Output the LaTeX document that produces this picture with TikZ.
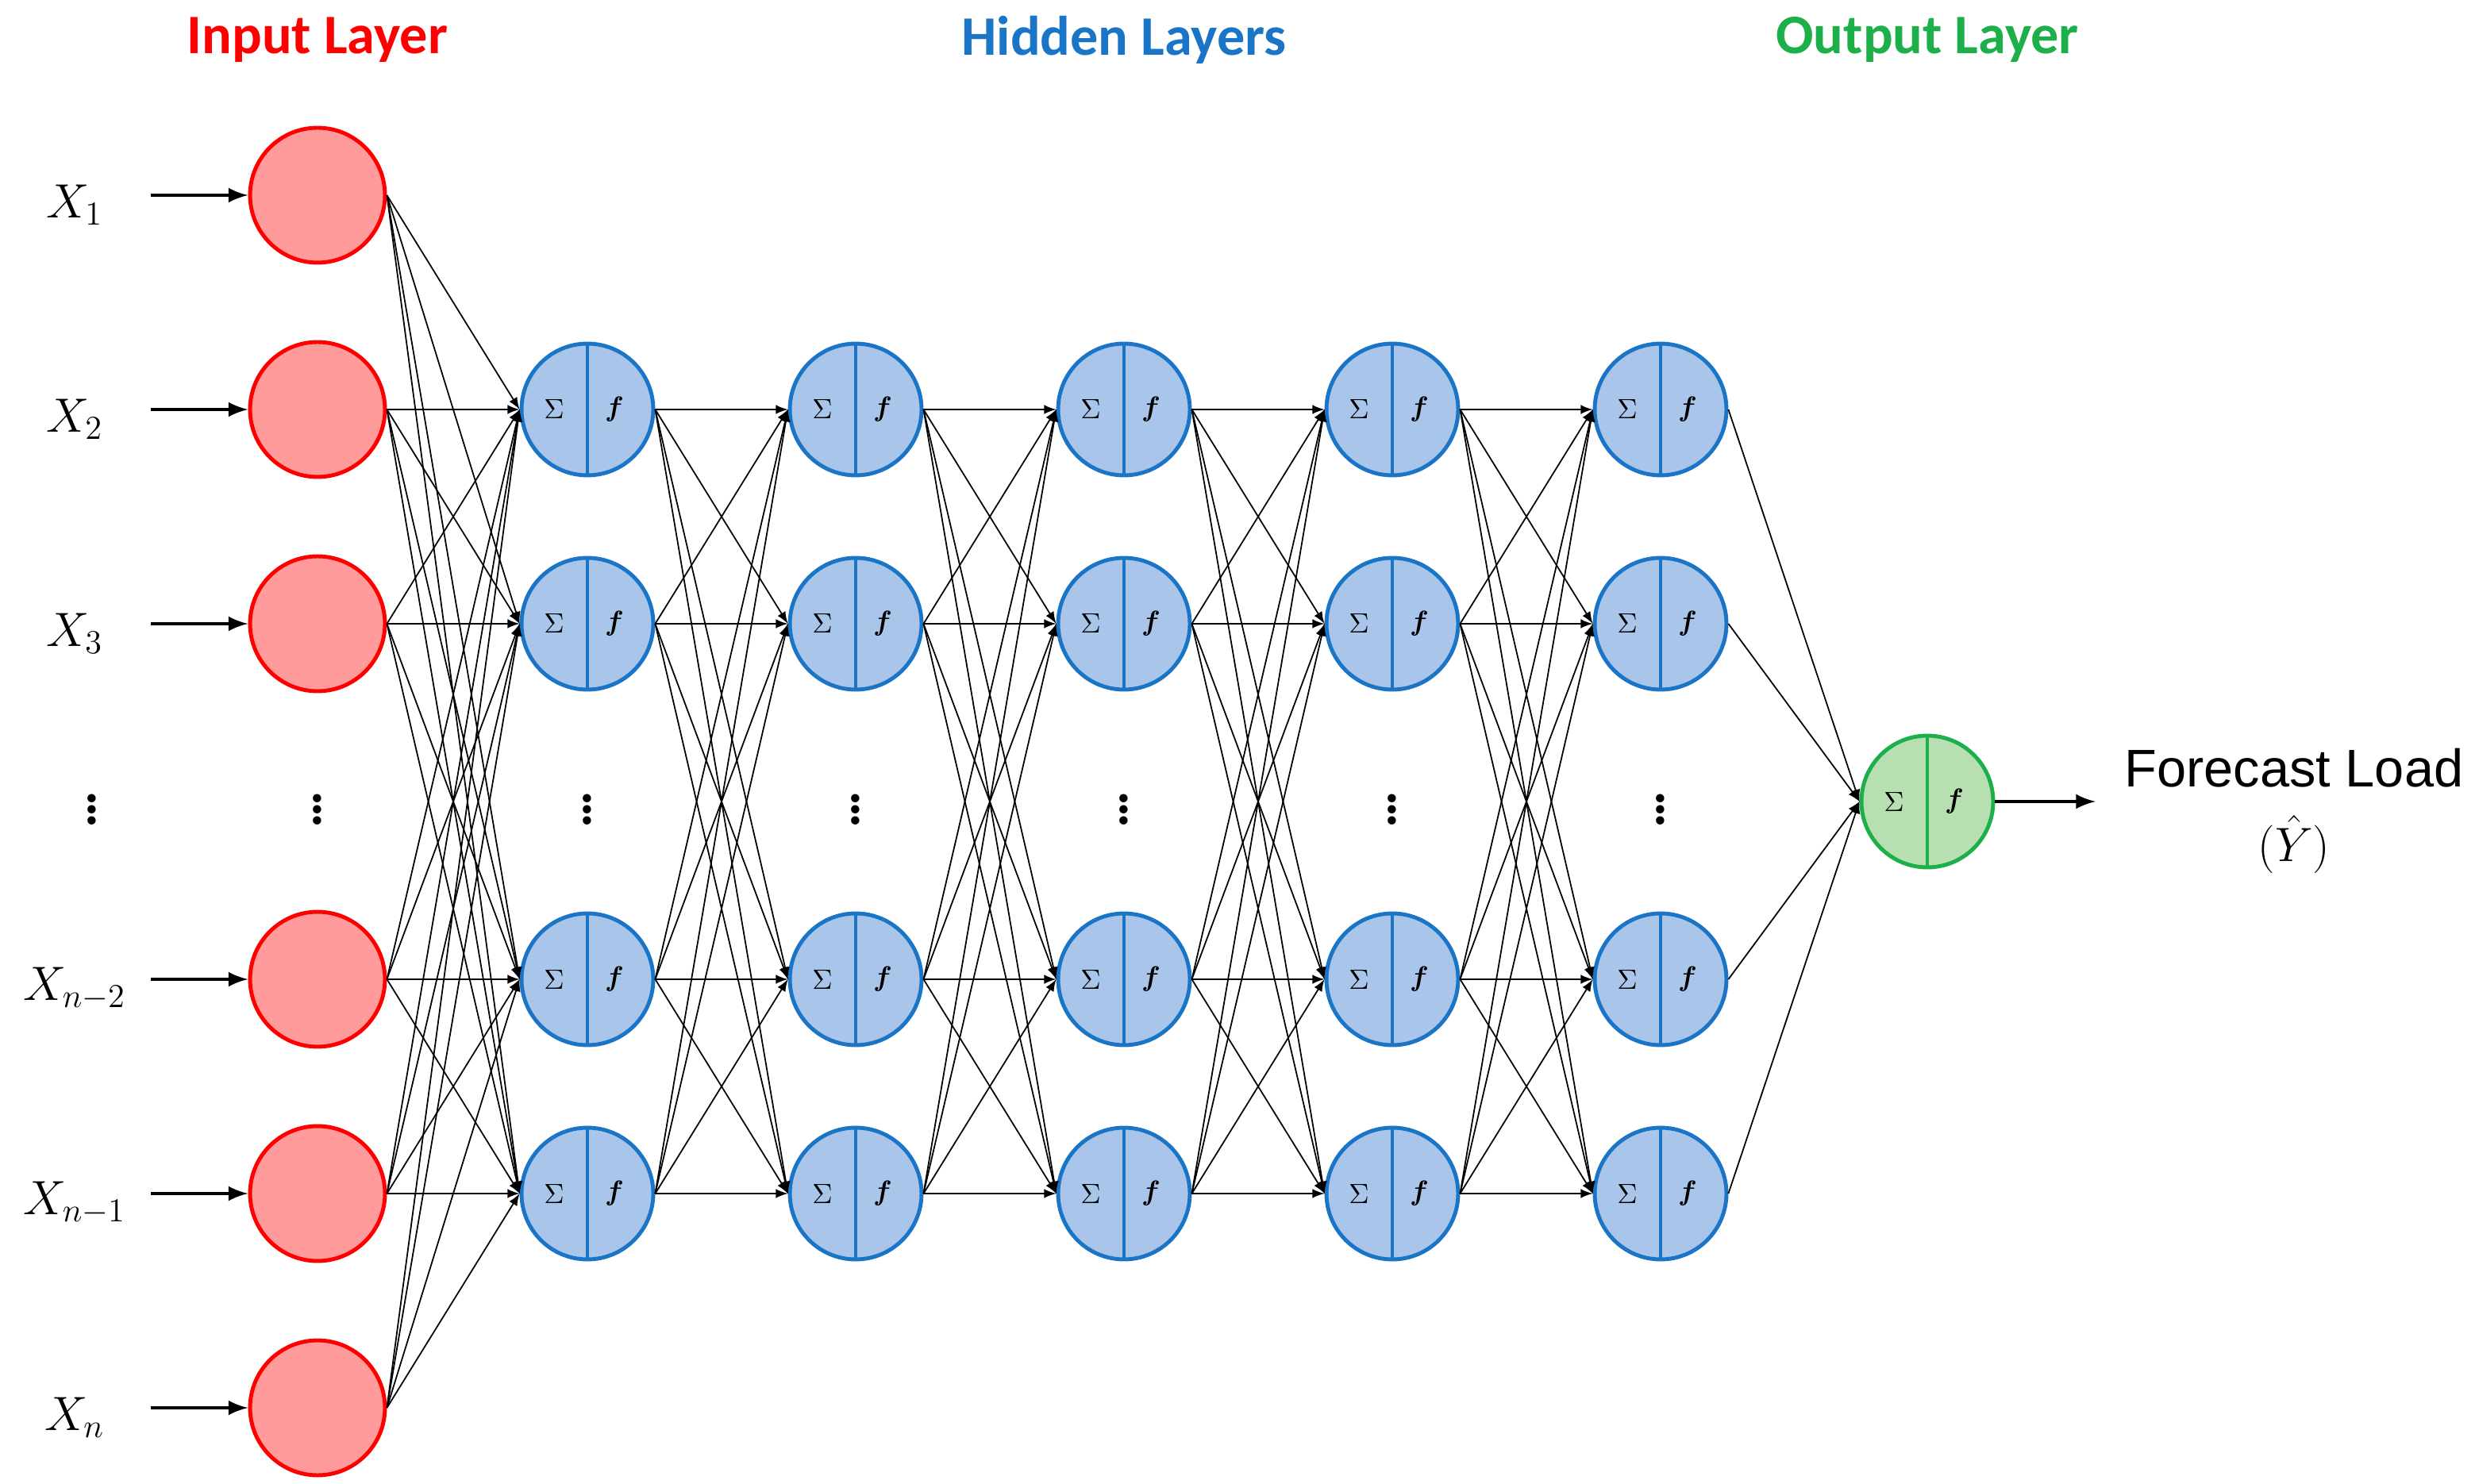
\documentclass[tikz,border=0pt]{standalone}
\usepackage{fontspec}
\usepackage{amsmath}
\newfontfamily\titlefont{Carlito}
\newfontfamily\labelfont{Liberation Sans}
\definecolor{inred}{HTML}{FF0000}
\definecolor{infill}{HTML}{FF9B9B}
\definecolor{hidblue}{HTML}{1B75C6}
\definecolor{hidfill}{HTML}{A9C5EA}
\definecolor{outgreen}{HTML}{1DB04A}
\definecolor{outfill}{HTML}{B7DFB2}
\begin{document}
\begin{tikzpicture}[x=0.02cm,y=-0.02cm,>=latex,
  inneuron/.style={circle,draw=inred,fill=infill,line width=1.4pt,minimum size=1.7cm,inner sep=0pt},
  hidneuron/.style={circle,draw=hidblue,fill=hidfill,line width=1.4pt,minimum size=1.66cm,inner sep=0pt},
  outneuron/.style={circle,draw=outgreen,fill=outfill,line width=1.4pt,minimum size=1.66cm,inner sep=0pt},
  conn/.style={->,line width=0.5pt},
  vdots/.style={font=\huge\bfseries,inner sep=0pt},
  title/.style={font=\titlefont\bfseries\fontsize{20}{24}\selectfont}]
\useasboundingbox (0,0) rectangle (1559,935);
% titles
\node[title,text=inred] (tin) at (200,25) {Input Layer};
\node[title,text=hidblue] (thid) at (708,25) {Hidden Layers};
\node[title,text=outgreen] (tout) at (1214,25) {Output Layer};
% input layer
\foreach \i/\y/\lab in {1/123/X_1,2/258/X_2,3/393/X_3,4/617/X_{n-2},5/752/X_{n-1},6/887/X_n}{
  \node[inneuron] (in\i) at (200,\y) {};
  \node[font=\LARGE] (x\i) at (47,\y+6) {$\lab$};
  \coordinate (xs\i) at (95,\y);
  \draw[->,line width=1.4pt] (xs\i) -- (in\i);
}
\node[vdots] (dx) at (58,505) {$\boldsymbol{\vdots}$};
\node[vdots] (din) at (200,505) {$\boldsymbol{\vdots}$};
% hidden layers
\foreach \l/\x in {1/370,2/539,3/708,4/877,5/1046}{
  \foreach \k/\y in {1/258,2/393,3/617,4/752}{
    \node[hidneuron] (h\l-\k) at (\x,\y) {};
    \draw[hidblue,line width=1.4pt] (h\l-\k.north) -- (h\l-\k.south);
    \node[font=\normalsize] at (\x-21,\y) {$\Sigma$};
    \node[font=\normalsize] at (\x+17,\y) {$\boldsymbol{f}$};
  }
  \node[vdots] (dh\l) at (\x,505) {$\boldsymbol{\vdots}$};
}
% output layer
\node[outneuron] (out) at (1214,505) {};
\draw[outgreen,line width=1.4pt] (out.north) -- (out.south);
\node[font=\normalsize] at (1193,505) {$\Sigma$};
\node[font=\normalsize] at (1231,505) {$\boldsymbol{f}$};
% connections
\foreach \i in {1,...,6}{
  \foreach \k in {1,...,4}{
    \draw[conn] (in\i.east) -- (h1-\k.west);
  }
}
\foreach \l [evaluate=\l as \m using int(\l+1)] in {1,...,4}{
  \foreach \j in {1,...,4}{
    \foreach \k in {1,...,4}{
      \draw[conn] (h\l-\j.east) -- (h\m-\k.west);
    }
  }
}
\foreach \k in {1,...,4}{
  \draw[conn] (h5-\k.east) -- (out.west);
}
% result
\coordinate (res) at (1320,505);
\draw[->,line width=1.4pt] (out.east) -- (res);
\node[font=\labelfont\fontsize{19}{22}\selectfont] (fl) at (1445,484) {Forecast Load};
\node[font=\LARGE] (yh) at (1445,532) {$(\hat{Y})$};
\end{tikzpicture}
\end{document}
